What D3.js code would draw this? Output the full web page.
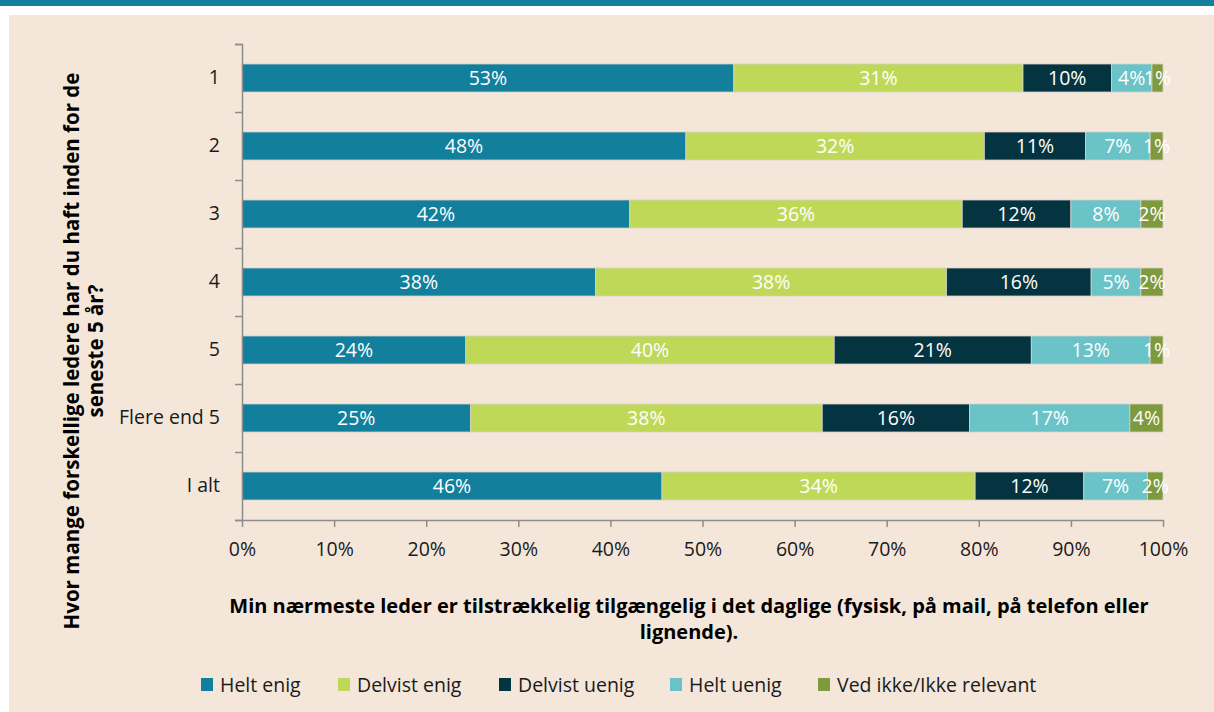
<!DOCTYPE html>
<html>
<head>
<meta charset="utf-8">
<script src="https://cdn.jsdelivr.net/npm/d3@7"></script>
<style>
  body { margin: 0; background: #fff; }
  svg text { font-family: "Open Sans", "Noto Sans", sans-serif; }
</style>
</head>
<body>
<div id="chart"></div>
<script>
// categories (y axis) and answer groups
const categories = ["1", "2", "3", "4", "5", "Flere end 5", "I alt"];
const seriesNames = ["Helt enig", "Delvist enig", "Delvist uenig", "Helt uenig", "Ved ikke/Ikke relevant"];
const seriesColors = ["#127f9d", "#bfd857", "#053441", "#69c3c7", "#7e9a3c"];

// percentages per category, one array per series
const heltEnig     = [53.4, 48.2, 42.1, 38.4, 24.3, 24.8, 45.6];
const delvistEnig  = [31.4, 32.4, 36.1, 38.1, 40.0, 38.2, 34.0];
const delvistUenig = [9.6, 11.0, 11.8, 15.7, 21.4, 16.0, 11.8];
const heltUenig    = [4.4, 7.0, 7.6, 5.4, 12.9, 17.4, 6.9];
const vedIkke      = [1.2, 1.4, 2.4, 2.4, 1.4, 3.6, 1.7];

const xTicks = [0, 10, 20, 30, 40, 50, 60, 70, 80, 90, 100];

const yTitle = ["Hvor mange forskellige ledere har du haft inden for de", "seneste 5 år?"];
const xTitle = ["Min nærmeste leder er tilstrækkelig tilgængelig i det daglige (fysisk, på mail, på telefon eller", "lignende)."];

const W = 1214, H = 712;
const FS = 19.5;
const allSeries = [heltEnig, delvistEnig, delvistUenig, heltUenig, vedIkke];

const table = categories.map((c, i) => {
  const row = { cat: c };
  seriesNames.forEach((s, j) => row[s] = allSeries[j][i]);
  return row;
});
const stacked = d3.stack().keys(seriesNames)(table);

const svg = d3.select("#chart").append("svg")
  .attr("width", W).attr("height", H);

// frame: top band + beige panel
svg.append("rect").attr("x", 0).attr("y", 0).attr("width", W).attr("height", 6).attr("fill", "#127f9d");
svg.append("rect").attr("x", 9).attr("y", 15).attr("width", W - 9).attr("height", H - 15).attr("fill", "#f4e7da");

const x = d3.scaleLinear().domain([0, 100]).range([242, 1163]);
const y = d3.scaleBand().domain(categories).range([44, 520]).paddingInner(0.588).paddingOuter(0.294);
const yEdge = d3.scaleLinear().domain([0, categories.length]).range([44, 520]);

// bars
const groups = svg.selectAll(".series").data(stacked).enter().append("g")
  .attr("class", "series")
  .attr("fill", (d, i) => seriesColors[i]);

groups.selectAll("rect").data(d => d).enter().append("rect")
  .attr("x", d => x(d[0]))
  .attr("y", d => y(d.data.cat))
  .attr("width", d => x(d[1]) - x(d[0]))
  .attr("height", y.bandwidth())
  .attr("stroke", "#d6d2cc")
  .attr("stroke-width", 0.8);

groups.selectAll("text").data(d => d).enter().append("text")
  .attr("x", d => (x(d[0]) + x(d[1])) / 2)
  .attr("y", d => y(d.data.cat) + y.bandwidth() / 2)
  .attr("dy", "0.36em")
  .attr("text-anchor", "middle")
  .attr("fill", "#fff")
  .attr("font-size", FS)
  .text(d => Math.round(d[1] - d[0]) + "%");

// y axis
const yAxisG = svg.append("g").attr("transform", "translate(242,0)");
yAxisG.call(d3.axisLeft(yEdge).ticks(categories.length).tickSize(7).tickSizeOuter(7).tickFormat(""));
const yLab = svg.append("g").attr("transform", "translate(242,0)")
  .call(d3.axisLeft(y).tickSize(0).tickPadding(22));
yLab.select(".domain").remove();

// x axis
const xAxisG = svg.append("g").attr("transform", "translate(0,520)")
  .call(d3.axisBottom(x).tickValues(xTicks).tickFormat(d => d + "%").tickSize(7).tickSizeOuter(0).tickPadding(15));

[yAxisG, xAxisG].forEach(g => {
  g.selectAll("path, line").attr("stroke", "#8c8c8c").attr("stroke-width", 1.5);
});
[yLab, xAxisG].forEach(g => {
  g.selectAll("text").attr("font-size", FS).attr("fill", "#1a1a1a")
    .style("font-family", "'Open Sans', 'Noto Sans', sans-serif");
});

// axis titles
const yt = svg.append("text")
  .attr("transform", "translate(79,351) rotate(-90)")
  .attr("text-anchor", "middle")
  .attr("font-weight", "bold").attr("font-size", 20.5).attr("fill", "#000");
yTitle.forEach((t, i) => yt.append("tspan").attr("x", 0).attr("dy", i === 0 ? 0 : 24).text(t));

const xt = svg.append("text")
  .attr("x", 689).attr("y", 613)
  .attr("text-anchor", "middle")
  .attr("font-weight", "bold").attr("font-size", 20).attr("fill", "#000");
xTitle.forEach((t, i) => xt.append("tspan").attr("x", 689).attr("dy", i === 0 ? 0 : 26).text(t));

// legend
const legendX = [201, 338, 499, 670, 818];
const legend = svg.selectAll(".legend").data(seriesNames).enter().append("g")
  .attr("class", "legend")
  .attr("transform", (d, i) => `translate(${legendX[i]},678)`);
legend.append("rect").attr("width", 12).attr("height", 13).attr("fill", (d, i) => seriesColors[i]);
legend.append("text").attr("x", 19).attr("y", 7).attr("dy", "0.36em")
  .attr("font-size", FS).attr("fill", "#1a1a1a").text(d => d);
</script>
</body>
</html>
